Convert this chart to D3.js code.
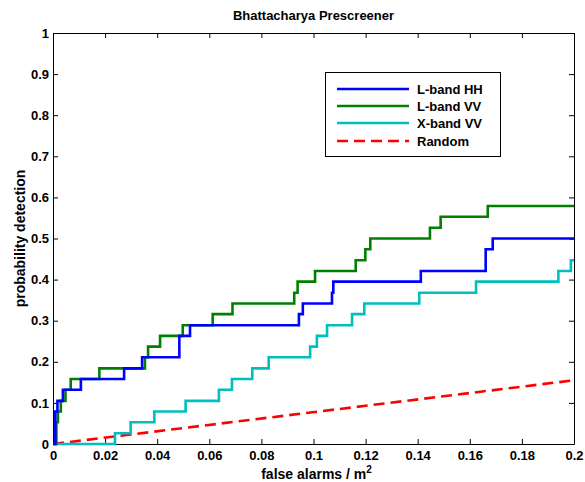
<!DOCTYPE html>
<html>
<head>
<meta charset="utf-8">
<script src="https://cdn.jsdelivr.net/npm/d3@7"></script>
<style>
  body { margin: 0; background: #fff; }
  svg text { font-family: "Liberation Sans", Arial, sans-serif; font-weight: bold; fill: #000; }
</style>
</head>
<body>
<svg id="chart" width="585" height="482"></svg>
<script>
// Step ROC curves: false alarm rate (per m^2) at which detection rises to the given level.
const hhFalseAlarms = [0, 0.0009, 0.0017, 0.0038, 0.0107, 0.0273, 0.0342, 0.0485, 0.0526, 0.0944, 0.0959, 0.1071, 0.1076, 0.1412, 0.1661, 0.1688, 0.2];
const hhDetection   = [0, 0.079, 0.105, 0.132, 0.158, 0.184, 0.211, 0.263, 0.289, 0.316, 0.342, 0.368, 0.395, 0.421, 0.474, 0.5, 0.5];

const lvvFalseAlarms = [0, 0.0013, 0.0019, 0.003, 0.0048, 0.0068, 0.0178, 0.0353, 0.0365, 0.0411, 0.0498, 0.0613, 0.0689, 0.0926, 0.0939, 0.1006, 0.1162, 0.1199, 0.1218, 0.1447, 0.1488, 0.1669, 0.2];
const lvvDetection   = [0, 0.053, 0.079, 0.105, 0.132, 0.158, 0.184, 0.211, 0.237, 0.263, 0.289, 0.316, 0.342, 0.368, 0.395, 0.421, 0.447, 0.474, 0.5, 0.526, 0.553, 0.579, 0.579];

const xvvFalseAlarms = [0, 0.0238, 0.0298, 0.0389, 0.0509, 0.0637, 0.0687, 0.0765, 0.0828, 0.0987, 0.1013, 0.1052, 0.1148, 0.1195, 0.1406, 0.1624, 0.194, 0.1988, 0.2];
const xvvDetection   = [0, 0.026, 0.053, 0.079, 0.105, 0.132, 0.158, 0.184, 0.211, 0.237, 0.263, 0.289, 0.316, 0.342, 0.368, 0.395, 0.421, 0.447, 0.447];

const randomFalseAlarms = [0, 0.2];
const randomDetection   = [0, 0.155];

const seriesNames = ["L-band HH", "L-band VV", "X-band VV", "Random"];
const xTicks = [0, 0.02, 0.04, 0.06, 0.08, 0.1, 0.12, 0.14, 0.16, 0.18, 0.2];
const yTicks = [0, 0.1, 0.2, 0.3, 0.4, 0.5, 0.6, 0.7, 0.8, 0.9, 1];

const titleText = "Bhattacharya Prescreener";
const yLabelText = "probability detection";

const margin = { left: 53, right: 11, top: 33, bottom: 38 };
const width = 585, height = 482;

const svg = d3.select("#chart");
const x = d3.scaleLinear().domain([0, 0.2]).range([margin.left, width - margin.right]);
const y = d3.scaleLinear().domain([0, 1]).range([height - margin.bottom, margin.top]);

const fmt = d => d3.format("")(+d.toFixed(2));

// axes with inward ticks on all four sides
const axisStyle = g => {
  g.select(".domain").attr("stroke", "#000").attr("stroke-width", 1);
  g.selectAll(".tick line").attr("stroke", "#000").attr("stroke-width", 1);
  g.selectAll(".tick text").style("font-size", "13px").attr("fill", "#000");
};
svg.append("g").attr("transform", `translate(0,${y(0)})`)
  .call(d3.axisBottom(x).tickValues(xTicks).tickSize(-5).tickPadding(7).tickSizeOuter(0).tickFormat(fmt))
  .call(axisStyle);
svg.append("g").attr("transform", `translate(0,${y(1)})`)
  .call(d3.axisTop(x).tickValues(xTicks).tickSize(-5).tickSizeOuter(0).tickFormat(""))
  .call(axisStyle);
svg.append("g").attr("transform", `translate(${x(0)},0)`)
  .call(d3.axisLeft(y).tickValues(yTicks).tickSize(-5).tickPadding(4).tickSizeOuter(0).tickFormat(fmt))
  .call(axisStyle);
svg.append("g").attr("transform", `translate(${x(0.2)},0)`)
  .call(d3.axisRight(y).tickValues(yTicks).tickSize(-5).tickSizeOuter(0).tickFormat(""))
  .call(axisStyle);

// curves
const stepLine = d3.line().x(d => x(d[0])).y(d => y(d[1])).curve(d3.curveStepAfter);
const straight = d3.line().x(d => x(d[0])).y(d => y(d[1]));
const zipPts = (xs, ys) => xs.map((v, i) => [v, ys[i]]);

const series = [
  { name: seriesNames[0], pts: zipPts(hhFalseAlarms, hhDetection), color: "#0000ff", gen: stepLine, dash: null },
  { name: seriesNames[1], pts: zipPts(lvvFalseAlarms, lvvDetection), color: "#008000", gen: stepLine, dash: null },
  { name: seriesNames[2], pts: zipPts(xvvFalseAlarms, xvvDetection), color: "#00bfbf", gen: stepLine, dash: null },
  { name: seriesNames[3], pts: zipPts(randomFalseAlarms, randomDetection), color: "#ff0000", gen: straight, dash: "11,6" }
];

const plot = svg.append("g");
// draw random first, then cyan, green, blue on top
[series[3], series[2], series[1], series[0]].forEach(s => {
  plot.append("path")
    .attr("d", s.gen(s.pts))
    .attr("fill", "none")
    .attr("stroke", s.color)
    .attr("stroke-width", 2.6)
    .attr("stroke-dasharray", s.dash);
});

// title and axis labels
svg.append("text").attr("x", (x(0) + x(0.2)) / 2).attr("y", 20)
  .attr("text-anchor", "middle").style("font-size", "13px").text(titleText);

const xl = svg.append("text").attr("x", (x(0) + x(0.2)) / 2 + 3).attr("y", 479)
  .attr("text-anchor", "middle").style("font-size", "14px");
xl.append("tspan").text("false alarms / m");
xl.append("tspan").attr("dy", -6).style("font-size", "10px").text("2");

svg.append("text")
  .attr("transform", `translate(20,${(y(0) + y(1)) / 2}) rotate(-90)`)
  .attr("text-anchor", "middle").attr("dy", "0.35em").style("font-size", "14px").text(yLabelText);

// legend
const lg = svg.append("g");
lg.append("rect").attr("x", 325.5).attr("y", 72.5).attr("width", 175).attr("height", 84)
  .attr("fill", "#fff").attr("stroke", "#000").attr("stroke-width", 1);
const rowY = [89, 106, 123, 141];
series.forEach((s, i) => {
  lg.append("line").attr("x1", 337).attr("x2", 409).attr("y1", rowY[i]).attr("y2", rowY[i])
    .attr("stroke", s.color).attr("stroke-width", 2.6).attr("stroke-dasharray", s.dash);
  lg.append("text").attr("x", 417).attr("y", rowY[i]).attr("dy", "0.35em")
    .style("font-size", "13px").text(s.name);
});
</script>
</body>
</html>
